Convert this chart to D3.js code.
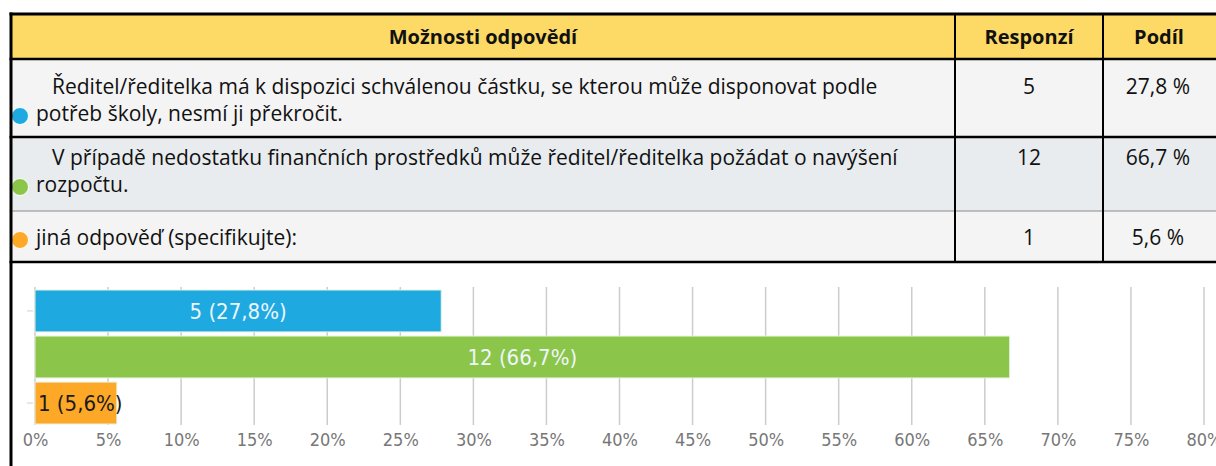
<!DOCTYPE html>
<html>
<head>
<meta charset="utf-8">
<script src="https://cdn.jsdelivr.net/npm/d3@7"></script>
<style>
  html, body { margin: 0; padding: 0; background: #fff; }
  svg { display: block; }
</style>
</head>
<body>
<svg id="chart" width="1216" height="466"></svg>
<script>
// ── data ─────────────────────────────────────────────
const headers = ['Možnosti odpovědí', 'Responzí', 'Podíl'];
const optionLines = [
  ['Ředitel/ředitelka má k dispozici schválenou částku, se kterou může disponovat podle', 'potřeb školy, nesmí ji překročit.'],
  ['V případě nedostatku finančních prostředků může ředitel/ředitelka požádat o navýšení', 'rozpočtu.'],
  ['jiná odpověď (specifikujte):']
];
const counts = [5, 12, 1];
const shares = [27.8, 66.7, 5.6];
const colors = ['#1fa9e1', '#8bc54a', '#fda827'];
const tickValues = [0, 5, 10, 15, 20, 25, 30, 35, 40, 45, 50, 55, 60, 65, 70, 75, 80];

const fmt = v => String(v).replace('.', ',');

const svg = d3.select('#chart');
const tableFont = '"Open Sans", Lato, sans-serif';
const chartFont = '"DejaVu Sans Condensed", "DejaVu Sans", sans-serif';

// ── table ────────────────────────────────────────────
const colX = [11, 955, 1103, 1240];
const rowY = [14, 59, 137, 211, 262];
const rowFill = ['#fdd966', '#f4f4f4', '#e8ecee', '#f4f4f4'];

rowFill.forEach((c, i) => {
  svg.append('rect').attr('x', colX[0]).attr('y', rowY[i])
    .attr('width', 1216 - colX[0]).attr('height', rowY[i + 1] - rowY[i])
    .attr('fill', c);
});

// header texts
headers.forEach((h, i) => {
  svg.append('text')
    .attr('x', (colX[i] + Math.min(colX[i + 1], 1213)) / 2 + (i === 2 ? 1 : 0))
    .attr('y', 44)
    .attr('text-anchor', 'middle')
    .attr('font-family', tableFont)
    .attr('font-weight', 700)
    .attr('font-size', 20)
    .attr('fill', '#111')
    .text(h);
});

// body rows
const lineBase = [[94, 121], [165, 192], [245]];
optionLines.forEach((lines, r) => {
  lines.forEach((t, j) => {
    const last = j === lines.length - 1;
    svg.append('text')
      .attr('x', last ? 36 : 52)
      .attr('y', lineBase[r][j])
      .attr('font-family', tableFont)
      .attr('font-size', 21)
      .attr('fill', '#111')
      .text(t);
  });
  const lb = lineBase[r][lines.length - 1];
  svg.append('circle').attr('cx', 20).attr('cy', lb - 5).attr('r', 8.5)
    .attr('fill', colors[r]).attr('stroke', '#fff').attr('stroke-width', 1);
  svg.append('text')
    .attr('x', (colX[1] + colX[2]) / 2).attr('y', lineBase[r][0])
    .attr('text-anchor', 'middle')
    .attr('font-family', tableFont).attr('font-size', 21).attr('fill', '#111')
    .text(counts[r]);
  svg.append('text')
    .attr('x', 1158).attr('y', lineBase[r][0])
    .attr('text-anchor', 'middle')
    .attr('font-family', tableFont).attr('font-size', 21).attr('fill', '#111')
    .text(fmt(shares[r]) + ' %');
});

// table lines
const hLines = [
  { y: rowY[0], c: '#000', w: 3 },
  { y: rowY[1], c: '#000', w: 2.5 },
  { y: rowY[2], c: '#000', w: 2.5 },
  { y: rowY[3], c: '#8a8a8a', w: 1 },
  { y: rowY[4], c: '#000', w: 2.5 }
];
hLines.forEach(l => {
  svg.append('line').attr('x1', colX[0] - 1.5).attr('x2', 1216)
    .attr('y1', l.y).attr('y2', l.y)
    .attr('stroke', l.c).attr('stroke-width', l.w);
});
[colX[1], colX[2]].forEach(x => {
  svg.append('line').attr('x1', x).attr('x2', x)
    .attr('y1', rowY[0]).attr('y2', rowY[4])
    .attr('stroke', '#000').attr('stroke-width', 2);
});
svg.append('line').attr('x1', colX[0]).attr('x2', colX[0])
  .attr('y1', rowY[0] - 1.5).attr('y2', 466)
  .attr('stroke', '#000').attr('stroke-width', 3);

// ── bar chart ────────────────────────────────────────
const x = d3.scaleLinear().domain([0, 80]).range([35, 1204]);
const y = d3.scaleBand().domain(d3.range(shares.length)).range([290, 424]).paddingInner(0.09);

const g = svg.append('g');

// grid
g.selectAll('.grid').data(tickValues).join('line')
  .attr('x1', d => x(d)).attr('x2', d => x(d))
  .attr('y1', 287).attr('y2', 425)
  .attr('stroke', '#cccccc').attr('stroke-width', 1.5);

// axis
const axis = d3.axisBottom(x).tickValues(tickValues).tickSize(0).tickPadding(0)
  .tickFormat(d => d + '%');
const ax = g.append('g').attr('transform', 'translate(0,440)').call(axis);
ax.select('.domain').remove();
ax.selectAll('text')
  .attr('dy', '0.35em')
  .attr('font-family', chartFont)
  .attr('font-size', 18)
  .attr('fill', '#777');

// category ticks on the left
g.selectAll('.ytick').data([0, 2]).join('line')
  .attr('x1', 27).attr('x2', 33)
  .attr('y1', d => y(d) + y.bandwidth() / 2).attr('y2', d => y(d) + y.bandwidth() / 2)
  .attr('stroke', '#c5d3e0').attr('stroke-width', 1);

// bars
g.selectAll('.bar').data(shares).join('rect')
  .attr('x', x(0))
  .attr('y', (d, i) => y(i))
  .attr('width', d => x(d) - x(0))
  .attr('height', y.bandwidth())
  .attr('fill', (d, i) => colors[i])
  .attr('stroke', '#e6f2e0').attr('stroke-width', 1);

// bar labels
g.selectAll('.lbl').data(shares).join('text')
  .attr('x', (d, i) => {
    const w = x(d) - x(0);
    return w > 150 ? x(0) + w / 2 : x(0) + 3;
  })
  .attr('y', (d, i) => y(i) + y.bandwidth() / 2)
  .attr('dy', '0.35em')
  .attr('text-anchor', d => (x(d) - x(0) > 150 ? 'middle' : 'start'))
  .attr('font-family', chartFont)
  .attr('font-size', 22)
  .attr('fill', d => (x(d) - x(0) > 150 ? '#eef6fb' : '#1a1a1a'))
  .text((d, i) => `${counts[i]} (${fmt(d)}%)`);
</script>
</body>
</html>
